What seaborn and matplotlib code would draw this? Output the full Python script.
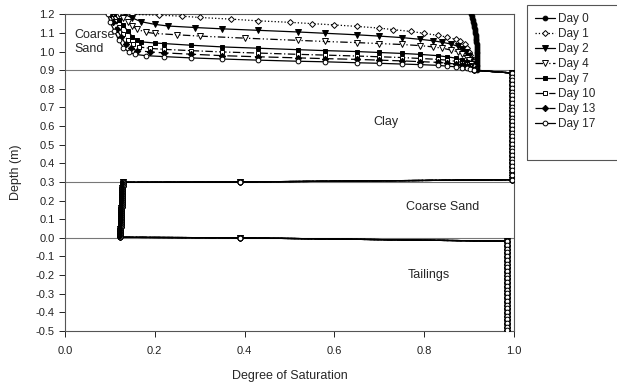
import numpy as np
import pandas as pd
import matplotlib
matplotlib.use("Agg")
import matplotlib.pyplot as plt
from matplotlib.patches import Rectangle
import seaborn as sns

sns.set_style("ticks")
plt.rcParams["font.family"] = ["Liberation Sans", "DejaVu Sans"]

# ---------------- data ----------------
days = ["Day 0", "Day 1", "Day 2", "Day 4", "Day 7", "Day 10", "Day 13", "Day 17"]

# top coarse sand layer (0.9 - 1.2 m): saturation / depth per day
top_sat = {
    "Day 0": [0.905, 0.906, 0.907, 0.908, 0.909, 0.910, 0.911, 0.912, 0.913, 0.914, 0.914, 0.915, 0.915, 0.916, 0.916, 0.916,
              0.917, 0.917, 0.917, 0.917, 0.917, 0.917, 0.917, 0.917, 0.917, 0.917, 0.917, 0.917, 0.917, 0.917, 0.917],
    "Day 1": [0.15, 0.21, 0.26, 0.30, 0.37, 0.43, 0.50, 0.55, 0.60, 0.65, 0.70, 0.73, 0.77, 0.80, 0.83, 0.85, 0.87, 0.88, 0.89, 0.895, 0.900, 0.903, 0.906, 0.908, 0.91],
    "Day 2": [0.133, 0.15, 0.17, 0.20, 0.23, 0.29, 0.35, 0.43, 0.52, 0.58, 0.65, 0.70, 0.75, 0.79, 0.82, 0.84, 0.86, 0.875, 0.885, 0.893, 0.90, 0.904, 0.906, 0.91],
    "Day 4": [0.12, 0.13, 0.14, 0.15, 0.16, 0.18, 0.20, 0.25, 0.30, 0.40, 0.52, 0.58, 0.65, 0.70, 0.75, 0.79, 0.82, 0.84, 0.86, 0.875, 0.885, 0.895, 0.90, 0.905, 0.91],
    "Day 7": [0.11, 0.12, 0.13, 0.14, 0.15, 0.16, 0.17, 0.20, 0.22, 0.28, 0.35, 0.43, 0.52, 0.58, 0.65, 0.70, 0.75, 0.79, 0.83, 0.85, 0.87, 0.885, 0.895, 0.903, 0.91],
    "Day 10": [0.105, 0.112, 0.12, 0.13, 0.14, 0.152, 0.165, 0.19, 0.22, 0.28, 0.35, 0.43, 0.52, 0.58, 0.65, 0.70, 0.75, 0.79, 0.83, 0.85, 0.87, 0.885, 0.895, 0.903, 0.91],
    "Day 13": [0.10, 0.107, 0.115, 0.125, 0.135, 0.147, 0.16, 0.19, 0.22, 0.28, 0.35, 0.43, 0.52, 0.58, 0.65, 0.70, 0.75, 0.79, 0.83, 0.85, 0.87, 0.885, 0.895, 0.903, 0.91],
    "Day 17": [0.095, 0.10, 0.11, 0.12, 0.13, 0.142, 0.155, 0.18, 0.22, 0.28, 0.35, 0.43, 0.52, 0.58, 0.65, 0.70, 0.75, 0.79, 0.83, 0.85, 0.87, 0.885, 0.895, 0.903, 0.91],
}
top_depth = {
    "Day 0": [1.200, 1.190, 1.180, 1.170, 1.160, 1.150, 1.140, 1.130, 1.120, 1.110, 1.100, 1.090, 1.080, 1.070, 1.060, 1.050,
              1.040, 1.030, 1.020, 1.010, 1.000, 0.990, 0.980, 0.970, 0.960, 0.950, 0.940, 0.930, 0.920, 0.910, 0.900],
    "Day 1": [1.200, 1.195, 1.190, 1.183, 1.174, 1.165, 1.157, 1.150, 1.143, 1.135, 1.126, 1.118, 1.108, 1.098, 1.087, 1.078, 1.066, 1.055, 1.040, 1.020, 1.000, 0.980, 0.955, 0.930, 0.900],
    "Day 2": [1.200, 1.180, 1.160, 1.146, 1.137, 1.129, 1.122, 1.114, 1.105, 1.098, 1.090, 1.083, 1.075, 1.066, 1.058, 1.050, 1.040, 1.028, 1.015, 0.998, 0.975, 0.955, 0.935, 0.900],
    "Day 4": [1.200, 1.180, 1.160, 1.138, 1.120, 1.104, 1.097, 1.090, 1.083, 1.072, 1.060, 1.054, 1.048, 1.043, 1.038, 1.032, 1.025, 1.018, 1.008, 0.998, 0.985, 0.968, 0.955, 0.935, 0.900],
    "Day 7": [1.200, 1.170, 1.140, 1.110, 1.080, 1.062, 1.052, 1.046, 1.043, 1.034, 1.025, 1.018, 1.010, 1.005, 1.000, 0.995, 0.990, 0.985, 0.978, 0.972, 0.965, 0.955, 0.945, 0.930, 0.900],
    "Day 10": [1.200, 1.165, 1.130, 1.095, 1.060, 1.040, 1.025, 1.017, 1.012, 1.005, 0.998, 0.992, 0.985, 0.981, 0.976, 0.972, 0.968, 0.963, 0.958, 0.954, 0.948, 0.941, 0.932, 0.920, 0.900],
    "Day 13": [1.200, 1.160, 1.120, 1.080, 1.040, 1.018, 1.005, 0.998, 0.993, 0.986, 0.978, 0.972, 0.966, 0.962, 0.958, 0.954, 0.950, 0.946, 0.942, 0.938, 0.933, 0.927, 0.920, 0.912, 0.900],
    "Day 17": [1.200, 1.160, 1.110, 1.060, 1.020, 0.998, 0.985, 0.978, 0.973, 0.966, 0.960, 0.954, 0.948, 0.945, 0.940, 0.937, 0.933, 0.930, 0.926, 0.922, 0.918, 0.914, 0.910, 0.906, 0.900],
}

# lower profile (same for every day): clay, coarse sand, tailings
clay_sat = [0.995] * 29
clay_depth = [0.885, 0.865, 0.845, 0.825, 0.805, 0.785, 0.765, 0.745, 0.725, 0.705,
              0.685, 0.665, 0.645, 0.625, 0.605, 0.585, 0.565, 0.545, 0.525, 0.505,
              0.485, 0.465, 0.445, 0.425, 0.405, 0.385, 0.365, 0.34, 0.312]
sand_sat = [0.39,
            0.1285, 0.1283, 0.1281, 0.1279, 0.1277, 0.1275, 0.1273, 0.1271, 0.1269, 0.1267,
            0.1265, 0.1263, 0.1261, 0.1259, 0.1257, 0.1255, 0.1253, 0.1251, 0.1249, 0.1247,
            0.1245, 0.1243, 0.1241, 0.1239, 0.1237, 0.1235, 0.1233, 0.1231, 0.1229, 0.1227, 0.1225,
            0.39]
sand_depth = [0.300,
              0.298, 0.288, 0.278, 0.268, 0.258, 0.248, 0.238, 0.228, 0.218, 0.208,
              0.198, 0.188, 0.178, 0.168, 0.158, 0.148, 0.138, 0.128, 0.118, 0.108,
              0.098, 0.088, 0.078, 0.068, 0.058, 0.048, 0.038, 0.028, 0.018, 0.008, 0.003,
              0.000]
tail_sat = [0.984] * 25
tail_depth = [-0.018, -0.038, -0.058, -0.078, -0.098, -0.118, -0.138, -0.158, -0.178, -0.198,
              -0.218, -0.238, -0.258, -0.278, -0.298, -0.318, -0.338, -0.358, -0.378, -0.398,
              -0.418, -0.438, -0.458, -0.478, -0.497]

x_ticks = [0.0, 0.2, 0.4, 0.6, 0.8, 1.0]
y_ticks = [1.2, 1.1, 1.0, 0.9, 0.8, 0.7, 0.6, 0.5, 0.4, 0.3, 0.2, 0.1, 0.0, -0.1, -0.2, -0.3, -0.4, -0.5]
layer_lines = [0.9, 0.3, 0.0]

styles = {
    "Day 0": dict(marker="o", mfc="black", ls="-"),
    "Day 1": dict(marker="D", mfc="white", ls=":"),
    "Day 2": dict(marker="v", mfc="black", ls="-"),
    "Day 4": dict(marker="v", mfc="white", ls=(0, (6, 2, 1, 2, 1, 2))),
    "Day 7": dict(marker="s", mfc="black", ls="-"),
    "Day 10": dict(marker="s", mfc="white", ls=(0, (6, 2, 1, 2))),
    "Day 13": dict(marker="D", mfc="black", ls=(0, (8, 3))),
    "Day 17": dict(marker="o", mfc="white", ls="-"),
}
msizes = {"Day 0": 3.4, "Day 1": 3.0, "Day 2": 3.8, "Day 4": 3.8,
          "Day 7": 3.2, "Day 10": 3.2, "Day 13": 3.2, "Day 17": 3.4}

# ---------------- figure ----------------
fig = plt.figure(figsize=(6.17, 3.83), dpi=100)
ax = fig.add_axes([65 / 617, 1 - 331 / 383, 449 / 617, (331 - 14.3) / 383])

for y in layer_lines:
    ax.axhline(y, color="#777777", lw=0.8, zorder=1)

low_sat = clay_sat + sand_sat + tail_sat
low_depth = clay_depth + sand_depth + tail_depth

for d in days:
    df = pd.DataFrame({"sat": top_sat[d] + low_sat, "depth": top_depth[d] + low_depth})
    st = styles[d]
    sns.lineplot(data=df, x="sat", y="depth", sort=False, estimator=None, ax=ax,
                 color="black", lw=0.9, marker=st["marker"], markersize=msizes[d],
                 markerfacecolor=st["mfc"], markeredgecolor="black", markeredgewidth=0.7,
                 linestyle=st["ls"], label=d, zorder=3)

# the middle sand layer reads as a solid thick band
sns.lineplot(x=sand_sat[1:-1], y=sand_depth[1:-1], sort=False, estimator=None, ax=ax,
             color="black", lw=3.2, zorder=4, legend=False)

ax.set_xlim(0.0, 1.0)
ax.set_ylim(-0.5, 1.2)
ax.set_xticks(x_ticks)
ax.set_xticklabels([f"{v:.1f}" for v in x_ticks])
ax.set_yticks(y_ticks)
ax.set_yticklabels([f"{v:.1f}" for v in y_ticks])
ax.tick_params(axis="both", labelsize=8, direction="out", length=4, width=0.7,
               colors="#222222")
ax.tick_params(axis="x", pad=7)
for s in ax.spines.values():
    s.set_linewidth(0.8)
    s.set_color("#555555")

ax.set_xlabel("Degree of Saturation", fontsize=9, labelpad=10)
ax.set_ylabel("Depth (m)", fontsize=9, labelpad=10)

ax.text(0.02, 1.05, "Coarse\nSand", fontsize=9, ha="left", va="center", linespacing=1.2)
ax.text(0.715, 0.62, "Clay", fontsize=9, ha="center", va="center")
ax.text(0.84, 0.165, "Coarse Sand", fontsize=9, ha="center", va="center")
ax.text(0.81, -0.20, "Tailings", fontsize=9, ha="center", va="center")

leg = ax.legend(loc="upper left", bbox_to_anchor=(530 / 617, 1 - 8 / 383),
                bbox_transform=fig.transFigure, frameon=False, fontsize=8.5,
                handlelength=1.7, handletextpad=0.3, labelspacing=0.26,
                borderaxespad=0)
fig.patches.append(Rectangle((527 / 617, 1 - 160 / 383), 0.3, (160 - 5) / 383,
                             transform=fig.transFigure, fill=False,
                             edgecolor="#555555", lw=0.8))

fig.savefig("out.png", dpi=100)
